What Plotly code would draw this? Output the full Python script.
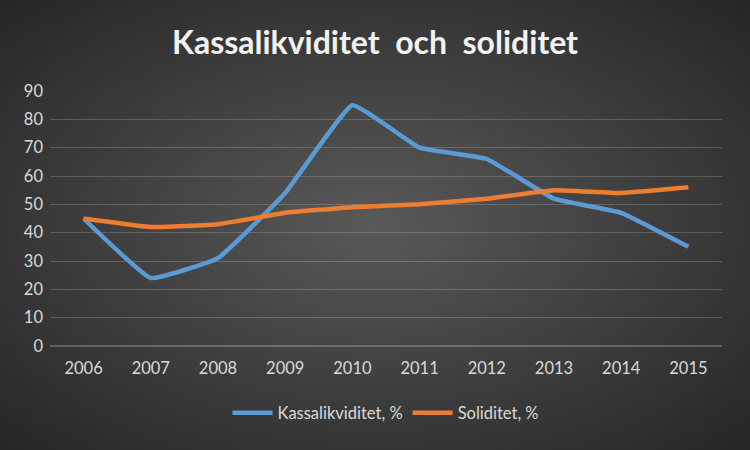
import base64
import plotly.graph_objects as go

years = ["2006", "2007", "2008", "2009", "2010", "2011", "2012", "2013", "2014", "2015"]
kassalikviditet = [45, 24, 31, 54, 85, 70, 66, 52, 47, 35]
soliditet = [45, 42, 43, 47, 49, 50, 52, 55, 54, 56]

W, H = 750, 450
ml, mr, mt, mb = 50, 28, 91, 104
pw, ph = W - ml - mr, H - mt - mb

svg = f'''<svg xmlns="http://www.w3.org/2000/svg" width="{W}" height="{H}" preserveAspectRatio="none">
<defs><radialGradient id="g" cx="50%" cy="50%" r="70%">
<stop offset="0%" stop-color="#595959"/><stop offset="100%" stop-color="#262626"/></radialGradient></defs>
<rect width="{W}" height="{H}" fill="url(#g)"/></svg>'''
src = "data:image/svg+xml;base64," + base64.b64encode(svg.encode()).decode()

font = "Lato, 'Open Sans', sans-serif"

fig = go.Figure()
fig.add_trace(go.Scatter(x=years, y=kassalikviditet, name="Kassalikviditet, %", mode="lines",
                         line=dict(color="#5B9BD5", width=4.5, shape="spline", smoothing=0.3)))
fig.add_trace(go.Scatter(x=years, y=soliditet, name="Soliditet, %", mode="lines",
                         line=dict(color="#ED7D31", width=4.5, shape="spline", smoothing=0.3)))

fig.update_layout(
    width=W, height=H,
    margin=dict(l=ml, r=mr, t=mt, b=mb),
    paper_bgcolor="#404040",
    plot_bgcolor="rgba(0,0,0,0)",
    font=dict(family=font, color="#d9d9d9", size=16.5),
    title=dict(text="<b>Kassalikviditet  och  soliditet</b>", x=0.5, xanchor="center",
               y=1 - 43 / H, yanchor="middle",
               font=dict(family=font, size=32, color="#f2f2f2")),
    xaxis=dict(range=[-0.5, 9.5], showgrid=False, showline=False, zeroline=False, ticks="",
               tickfont=dict(size=16.5, color="#d9d9d9"), ticklabelstandoff=10),
    yaxis=dict(range=[0, 90], dtick=10, showgrid=True, gridcolor="rgba(255,255,255,0.18)",
               gridwidth=1, zeroline=True, zerolinecolor="rgba(255,255,255,0.22)",
               showline=False, ticks="", tickfont=dict(size=16.5, color="#d9d9d9"),
               ticklabelstandoff=6),
    legend=dict(orientation="h", x=0.5, xanchor="center", y=-(413 - (mt + ph)) / ph, yanchor="middle",
                font=dict(size=16.5, color="#d9d9d9"), bgcolor="rgba(0,0,0,0)", itemwidth=40),
    showlegend=True,
    images=[dict(source=src, xref="paper", yref="paper", x=-ml / pw, y=(ph + mt) / ph,
                 sizex=W / pw, sizey=H / ph, xanchor="left", yanchor="top",
                 sizing="stretch", layer="below")],
)

fig.write_html("out.html")
